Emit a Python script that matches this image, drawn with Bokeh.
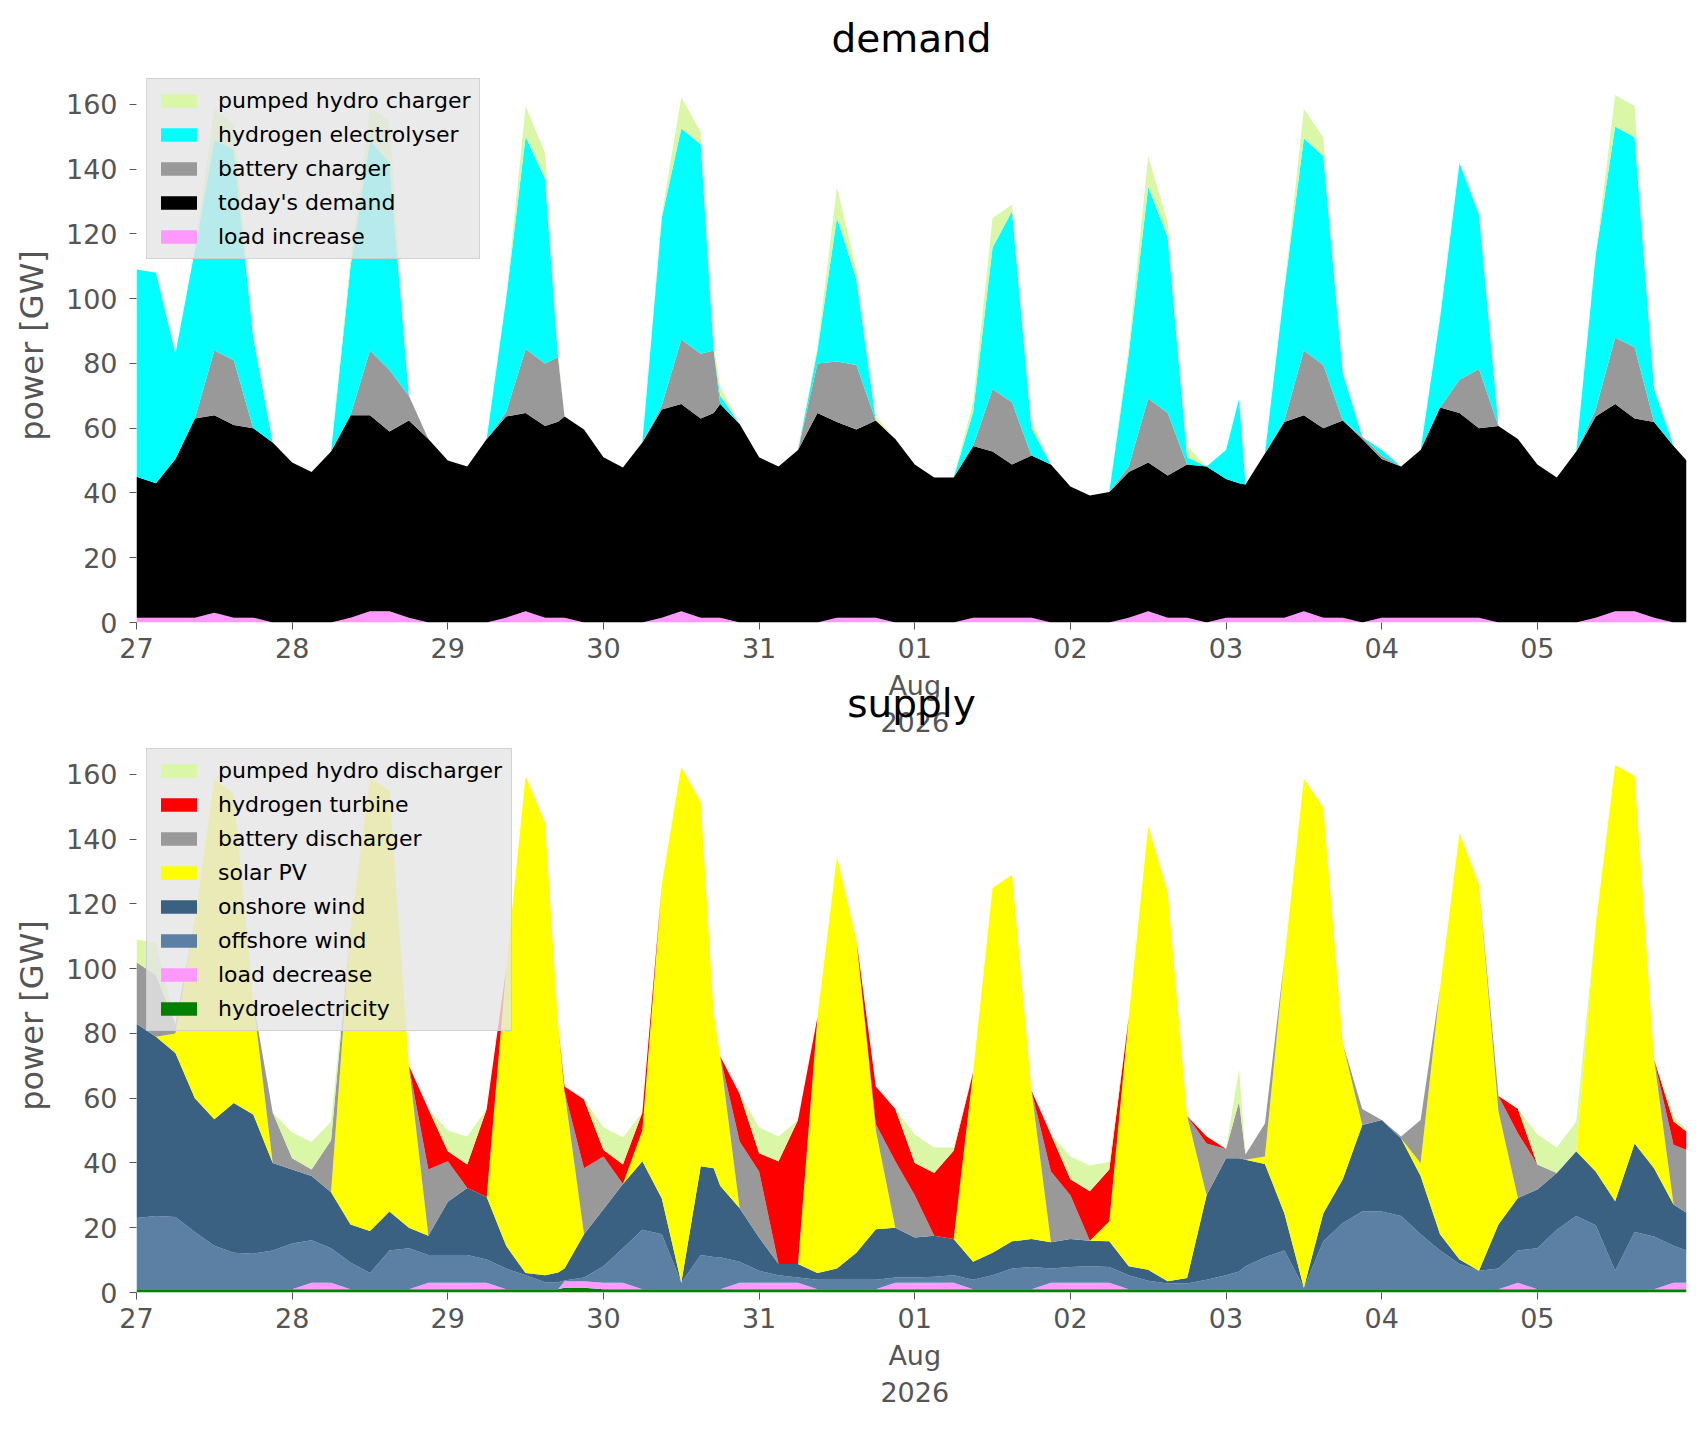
import pandas as pd

from bokeh.embed import file_html
from bokeh.layouts import column
from bokeh.models import (ColumnDataSource, FixedTicker, Legend, LegendItem,
                          Range1d)
from bokeh.plotting import figure
from bokeh.resources import INLINE

start = pd.Timestamp("2026-07-27 00:00")
hours = sorted(list(range(0, 238, 3)) + [65, 89, 170, 239])

# ---- demand side [GW], bottom of the stack first
load_increase = [
    1.5, 1.5, 1.5, 1.5, 3.0, 1.5, 1.5, 0, 0, 0,
    0, 1.5, 3.5, 3.5, 1.5, 0, 0, 0, 0, 1.5,
    3.5, 1.5, 1.5, 1.5, 0, 0, 0, 0, 1.5, 3.5, 1.5, 1.5,
    1.5, 0, 0, 0, 0, 0, 1.5, 1.5, 1.5, 0,
    0, 0, 0, 1.5, 1.5, 1.5, 1.5, 0, 0, 0,
    0, 1.5, 3.5, 1.5, 1.5, 0, 1.5, 1.5, 1.5, 1.5, 1.5,
    3.5, 1.5, 1.5, 0, 1.5, 1.5, 1.5, 1.5, 1.5, 1.5,
    0, 0, 0, 0, 0, 1.5, 3.5, 3.5, 1.5, 0,
    0]
todays_demand = [
    43.5, 41.5, 49.0, 61.5, 61.0, 59.5, 58.5, 55.6, 49.4, 46.5,
    52.8, 62.5, 60.5, 55.5, 60.9, 56.7, 50.0, 48.2, 56.7, 62.1,
    61.2, 59.2, 60.5, 62.1, 59.6, 51.0, 47.9, 55.6, 64.3, 64.0, 61.5, 63.2,
    66.0, 61.3, 51.0, 48.2, 53.3, 64.7, 60.4, 58.1, 60.9, 56.7,
    48.8, 44.8, 44.8, 53.0, 51.3, 47.3, 50.1, 48.8, 42.0, 39.2,
    40.3, 45.0, 45.9, 43.9, 47.3, 48.2, 42.8, 41.5, 41.1, 50.7, 60.4,
    60.5, 58.5, 60.9, 56.7, 49.0, 46.7, 51.8, 64.9, 63.2, 58.5,
    60.7, 56.7, 48.8, 44.8, 52.8, 62.1, 64.0, 59.5, 60.4, 54.5,
    50.0]
battery_charger = [
    0, 0, 0, 0, 20.0, 20.0, 0, 0, 0, 0,
    0, 0, 20.0, 19.0, 7.6, 0, 0, 0, 0, 1.4,
    19.8, 19.3, 20.0, 0, 0, 0, 0, 0, 1.2, 19.9, 20.0, 19.3,
    0, 0, 0, 0, 0, 15.3, 18.7, 19.9, 0, 0,
    0, 0, 0, 0, 19.2, 19.2, 0, 0, 0, 0,
    0, 1.7, 19.8, 19.3, 0, 0, 0, 0, 0, 0, 0.6,
    20.0, 19.5, 0, 0.6, 1.0, 0, 0, 0, 10.3, 18.3,
    0, 0, 0, 0, 0, 2.2, 20.5, 22.0, 0, 0,
    0]
hydrogen_electrolyser = [
    64.0, 65.0, 32.5, 52.0, 65.0, 65.0, 28.0, 0, 0, 0,
    0, 46.0, 65.0, 64.0, 0, 0, 0, 0, 0, 35.0,
    65.5, 57.0, 0, 0, 0, 0, 0, 0, 58.0, 65.2, 64.6, 0,
    2.5, 0, 0, 0, 0, 4.0, 44.4, 26.5, 0, 0,
    0, 0, 0, 10.5, 43.8, 59.0, 8.4, 0, 0, 0,
    0, 34.8, 65.3, 54.3, 2.2, 0, 9.0, 26.0, 0, 0, 40.5,
    65.5, 64.5, 14.6, 0, 1.8, 0, 0, 27.6, 66.9, 47.7,
    0, 0, 0, 0, 0, 47.7, 65.2, 64.8, 10.1, 0,
    0]
pumped_hydro_charger = [
    0, 0, 0, 0, 9.5, 8.0, 2.0, 0, 0, 0,
    0, 2.0, 10.0, 13.0, 0, 0, 0, 0, 0, 0,
    9.5, 8.0, 1.0, 0, 0, 0, 0, 0, 1.0, 9.7, 3.9, 2.0,
    3.0, 0, 0, 0, 0, 1.0, 9.5, 3.0, 1.2, 0,
    0, 0, 0, 3.0, 9.1, 2.0, 2.4, 0, 0, 0,
    0, 2.0, 9.5, 4.7, 3.5, 0, 0, 0, 0, 0, 0,
    9.2, 5.8, 0, 0, 0, 0, 0, 0, 0, 0,
    0, 0, 0, 0, 0, 0, 9.7, 9.7, 0, 0,
    0]

# ---- supply side [GW], bottom of the stack first
hydroelectricity = [
    1.0, 1.0, 1.0, 1.0, 1.0, 1.0, 1.0, 1.0, 1.0, 1.0,
    1.0, 1.0, 1.0, 1.0, 1.0, 1.0, 1.0, 1.0, 1.0, 1.0,
    1.0, 1.0, 1.0, 1.5, 1.5, 1.0, 1.0, 1.0, 1.0, 1.0, 1.0, 1.0,
    1.0, 1.0, 1.0, 1.0, 1.0, 1.0, 1.0, 1.0, 1.0, 1.0,
    1.0, 1.0, 1.0, 1.0, 1.0, 1.0, 1.0, 1.0, 1.0, 1.0,
    1.0, 1.0, 1.0, 1.0, 1.0, 1.0, 1.0, 1.0, 1.0, 1.0, 1.0,
    1.0, 1.0, 1.0, 1.0, 1.0, 1.0, 1.0, 1.0, 1.0, 1.0,
    1.0, 1.0, 1.0, 1.0, 1.0, 1.0, 1.0, 1.0, 1.0, 1.0,
    1.0]
load_decrease = [
    0, 0, 0, 0, 0, 0, 0, 0, 0, 2.0,
    2.0, 0, 0, 0, 0, 2.0, 2.0, 2.0, 2.0, 0,
    0, 0, 0, 2.0, 2.0, 2.0, 2.0, 0, 0, 0, 0, 0,
    0, 2.0, 2.0, 2.0, 2.0, 0, 0, 0, 0, 2.0,
    2.0, 2.0, 2.0, 0, 0, 0, 0, 2.0, 2.0, 2.0,
    2.0, 0, 0, 0, 0, 0, 0, 0, 0, 0, 0,
    0, 0, 0, 0, 0, 0, 0, 0, 0, 0,
    0, 2.0, 0, 0, 0, 0, 0, 0, 0, 2.0,
    2.0]
offshore_wind = [
    22.0, 22.6, 22.3, 17.7, 13.4, 11.3, 11.0, 12.0, 14.1, 13.1,
    10.7, 8.3, 5.0, 12.0, 12.7, 8.6, 8.6, 8.6, 7.2, 6.4,
    4.3, 2.2, 2.2, 0.2, 1.1, 5.1, 10.7, 18.4, 17.0, 2.0, 10.6, 10.0,
    9.9, 6.5, 3.7, 2.3, 1.6, 2.9, 2.9, 2.9, 2.9, 1.6,
    1.6, 1.9, 2.3, 2.9, 4.3, 6.4, 6.9, 4.4, 4.9, 5.1,
    4.9, 4.3, 2.6, 1.8, 1.8, 2.9, 4.3, 5.5, 7.1, 9.9, 12.0,
    0.5, 14.8, 20.5, 24.0, 24.0, 22.6, 17.0, 12.0, 7.8, 5.7,
    6.4, 10.0, 12.7, 18.4, 22.6, 19.8, 5.7, 17.7, 16.3, 11.4,
    10.0]
onshore_wind = [
    60.0, 55.4, 50.7, 41.3, 39.1, 46.2, 43.0, 27.0, 22.9, 19.9,
    17.3, 11.7, 13.0, 12.0, 6.3, 5.9, 16.4, 20.7, 19.3, 7.0,
    0.7, 2.1, 3.0, 3.7, 13.4, 17.6, 19.8, 21.1, 11.0, 0.0, 27.4, 27.4,
    22.1, 16.5, 10.3, 3.5, 4.2, 2.1, 3.5, 8.4, 15.6, 15.4,
    12.4, 12.6, 11.2, 5.6, 7.0, 8.4, 8.6, 8.1, 8.6, 7.9,
    7.9, 2.8, 3.4, 0.7, 1.7, 26.1, 36.2, 35.0, 32.9, 28.8, 11.4,
    0.0, 8.7, 13.5, 26.7, 28.3, 24.0, 18.0, 5.0, 1.4, 0.0,
    13.6, 16.2, 18.1, 17.5, 20.0, 16.6, 21.5, 27.3, 21.1, 12.8,
    11.6]
solar_pv = [
    0, 0, 6.0, 55.0, 105.0, 95.5, 35.0, 0, 0, 0,
    0, 91.0, 140.0, 130.0, 50.0, 0, 0, 0, 0, 85.6,
    153.5, 139.7, 76.8, 54.6, 0, 0, 0, 9.5, 97.0, 159.3, 112.5, 47.6,
    40.0, 0, 0, 0, 0, 79.0, 127.1, 96.7, 30.5, 0,
    0, 0, 0, 58.5, 112.6, 113.2, 45.9, 0, 0, 0,
    6.2, 76.9, 137.0, 120.2, 50.0, 0, 0, 0, 0, 2.3, 78.6,
    157.2, 125.3, 42.0, 0, 0, 0, 4.0, 76.0, 131.7, 119.3,
    35.0, 0, 0, 0, 0, 76.1, 134.7, 113.5, 33.6, 0,
    0]
battery_discharger = [
    19.0, 19.0, 3.0, 0, 0, 0, 0, 15.6, 3.5, 2.0,
    16.0, 0, 0, 0, 0, 20.5, 12.5, 0, 0, 0,
    0, 0, 0, 0, 20.4, 16.3, 0, 0, 0, 0, 0, 0,
    0, 20.6, 20.4, 0, 0, 0, 0, 0, 2.0, 20.5,
    13.0, 0, 0, 0, 0, 0, 0, 21.9, 13.5, 0,
    0, 0, 0, 0, 0, 16.0, 2.8, 17.5, 1.6, 10.2, 0,
    0, 0, 0, 5.0, 0, 0.6, 13.3, 0, 0, 0,
    4.7, 20.0, 7.7, 0, 0, 0, 0, 0, 0, 18.4,
    19.4]
hydrogen_turbine = [
    0, 0, 0, 0, 0, 0, 0, 0, 0, 0,
    0, 0, 0, 0, 0, 18.7, 3.1, 7.2, 27.2, 0,
    0, 0, 0, 1.6, 21.2, 2.0, 6.0, 5.6, 0, 0, 0, 0,
    0, 14.7, 5.6, 31.7, 44.5, 0, 0, 0, 11.6, 16.2,
    10.0, 19.4, 27.3, 0, 0, 0, 0, 11.4, 5.0, 15.3,
    16.0, 0, 0, 0, 0, 2.2, 0, 0, 0, 0, 0,
    0, 0, 0, 0, 0, 0, 0, 0, 0, 0,
    0, 7.5, 0, 0, 0, 0, 0, 0, 0, 7.2,
    5.7]
pumped_hydro_discharger = [
    7.0, 10.0, 0, 0, 0, 0, 0, 0, 7.9, 8.5,
    5.8, 0, 0, 0, 0, 0, 6.4, 8.7, 0, 0,
    0, 0, 0, 0, 0, 7.0, 8.4, 0, 0, 0, 0, 0,
    0, 0, 8.0, 7.7, 0, 0, 0, 0, 0, 0,
    8.8, 7.9, 1.0, 0, 0, 0, 0, 0, 7.0, 7.9,
    2.3, 0, 0, 0, 0, 0, 0, 10.0, 0, 0, 0,
    0, 0, 0, 0, 0, 0, 0, 0, 0, 0,
    0, 0, 9.3, 7.9, 9.2, 0, 0, 0, 0, 1.7,
    0.3]

day_labels = ["27", "28", "29", "30", "31", "01\nAug\n2026", "02", "03", "04", "05"]
y_ticks = [0, 20, 40, 60, 80, 100, 120, 140, 160]

FONT = "DejaVu Sans"
GREY = "#555555"

times = [start + pd.Timedelta(hours=h) for h in hours]
day_ticks = [(start + pd.Timedelta(days=d)).value / 1e6 for d in range(len(day_labels))]

demand_layers = [
    ("load_increase", "load increase", "#ff99ff", load_increase),
    ("todays_demand", "today's demand", "#000000", todays_demand),
    ("battery_charger", "battery charger", "#999999", battery_charger),
    ("hydrogen_electrolyser", "hydrogen electrolyser", "#00ffff", hydrogen_electrolyser),
    ("pumped_hydro_charger", "pumped hydro charger", "#d9f7a6", pumped_hydro_charger),
]
supply_layers = [
    ("hydroelectricity", "hydroelectricity", "#008000", hydroelectricity),
    ("load_decrease", "load decrease", "#ff99ff", load_decrease),
    ("offshore_wind", "offshore wind", "#5b80a4", offshore_wind),
    ("onshore_wind", "onshore wind", "#3b6182", onshore_wind),
    ("solar_pv", "solar PV", "#ffff00", solar_pv),
    ("battery_discharger", "battery discharger", "#999999", battery_discharger),
    ("hydrogen_turbine", "hydrogen turbine", "#ff0000", hydrogen_turbine),
    ("pumped_hydro_discharger", "pumped hydro discharger", "#d9f7a6", pumped_hydro_discharger),
]


def stack_panel(layers, title, border_top, border_bottom):
    data = {"t": times}
    for name, _, _, vals in layers:
        data[name] = vals
    source = ColumnDataSource(data)

    p = figure(frame_width=1550, frame_height=554, x_axis_type="datetime",
               x_range=Range1d(times[0], times[-1]), y_range=Range1d(0, 171.1),
               title=title, toolbar_location=None, output_backend="svg",
               min_border_left=136, min_border_right=4,
               min_border_top=border_top, min_border_bottom=border_bottom)

    names = [l[0] for l in layers]
    renderers = p.varea_stack(stackers=names, x="t", source=source,
                              color=[l[2] for l in layers])

    items = [LegendItem(label=l[1], renderers=[r]) for l, r in zip(layers, renderers)]
    legend = Legend(items=items[::-1], location="top_left", margin=10, padding=9,
                    spacing=9, glyph_width=45, glyph_height=17, label_standoff=17,
                    label_text_font=FONT, label_text_font_size="22px",
                    label_text_color="black",
                    background_fill_color="#e5e5e5", background_fill_alpha=0.8,
                    border_line_color="#cccccc", border_line_alpha=0.8)
    p.add_layout(legend)

    if title:
        p.title.text_font = FONT
        p.title.text_font_size = "39px"
        p.title.text_font_style = "normal"
        p.title.text_color = "black"
        p.title.align = "center"
        p.title.standoff = 15

    p.xaxis.ticker = FixedTicker(ticks=day_ticks)
    p.xaxis.major_label_overrides = dict(zip(day_ticks, day_labels))
    p.yaxis.ticker = FixedTicker(ticks=y_ticks)
    for ax in (p.xaxis[0], p.yaxis[0]):
        ax.axis_line_color = None
        ax.major_tick_line_color = GREY
        ax.major_tick_in = 0
        ax.major_tick_out = 7
        ax.minor_tick_line_color = None
        ax.major_label_text_font = FONT
        ax.major_label_text_font_size = "27px"
        ax.major_label_text_color = GREY
    p.xaxis.major_label_standoff = 3
    p.yaxis.major_label_standoff = 12
    p.yaxis.axis_label = "power [GW]"
    p.yaxis.axis_label_text_font = FONT
    p.yaxis.axis_label_text_font_size = "32px"
    p.yaxis.axis_label_text_font_style = "normal"
    p.yaxis.axis_label_text_color = GREY
    p.yaxis.axis_label_standoff = 12

    p.xgrid.grid_line_color = None
    p.ygrid.grid_line_color = None
    p.outline_line_color = None
    p.background_fill_color = "white"
    return p


demand = stack_panel(demand_layers, "demand", 68, 116)
supply = stack_panel(supply_layers, None, 0, 123)

# the lower panel's title sits in the gap under the upper panel's dates,
# overlapping the month/year labels the way the original does
demand.xaxis.axis_label = "supply"
demand.xaxis.axis_label_text_font = FONT
demand.xaxis.axis_label_text_font_size = "39px"
demand.xaxis.axis_label_text_font_style = "normal"
demand.xaxis.axis_label_text_color = "black"
demand.xaxis.axis_label_standoff = -60

page = column(demand, supply)
open("out.html", "w").write(file_html(page, INLINE))
